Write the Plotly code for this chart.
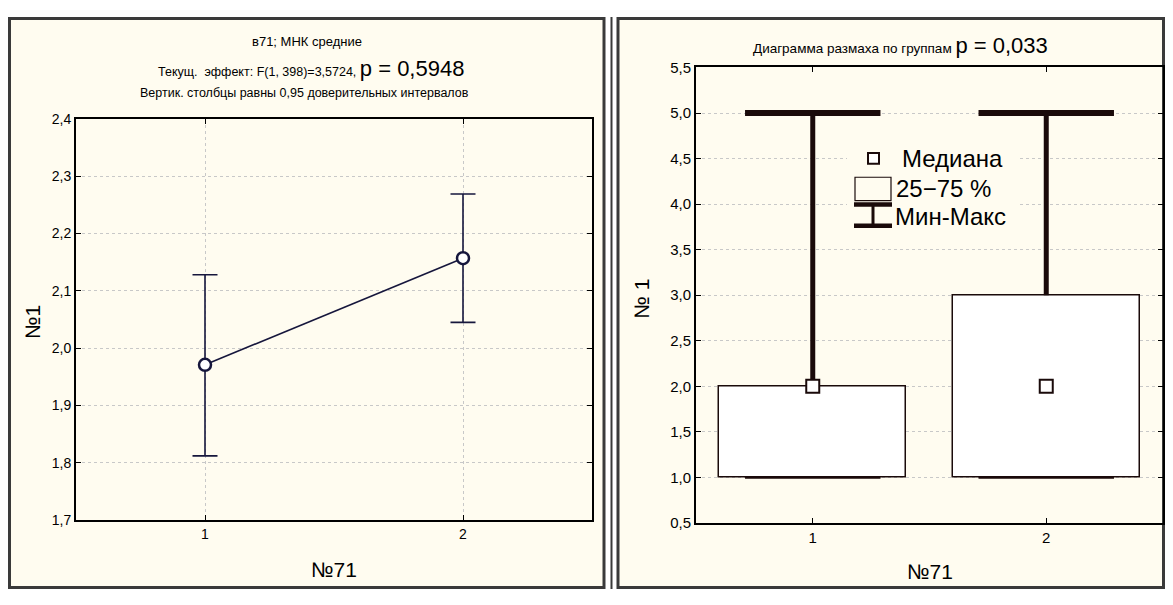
import plotly.graph_objects as go

# ---------------- data ----------------
groups = [1, 2]
group_labels = ["1", "2"]

# left panel: LS means with 0.95 confidence intervals
means = [1.971, 2.157]
ci_low = [1.812, 2.045]
ci_high = [2.128, 2.269]

# right panel: range plot by groups
medians = [2.0, 2.0]
q1 = [1.0, 1.0]
q3 = [2.0, 3.0]
mins = [1.0, 1.0]
maxs = [5.0, 5.0]

# page is 1173x605; the browser's default 8px body margin surrounds the figure
PAGE_W, PAGE_H = 1173, 605
OFF = 8
W, H = PAGE_W - 2 * OFF, PAGE_H - 2 * OFF
NARROW = "Liberation Sans Narrow, Arial Narrow, Liberation Sans, Arial, sans-serif"
REG = "Liberation Sans, Arial, sans-serif"
CREAM = "#fffcf0"
NAVY = "#16163c"
DARK = "#1a0a0a"
BOX_W = 0.8
CAP = 0.29


def px(x):
    return (x - OFF) / W


def py(y):
    return 1 - (y - OFF) / H


fig = go.Figure()

# ---------- left panel ----------
fig.add_trace(go.Scatter(
    x=groups, y=means, mode="lines+markers",
    line=dict(color=NAVY, width=1.6),
    marker=dict(symbol="circle", size=12, color="white", line=dict(color=NAVY, width=2.5)),
    error_y=dict(type="data", symmetric=False,
                 array=[h - m for h, m in zip(ci_high, means)],
                 arrayminus=[m - l for m, l in zip(means, ci_low)],
                 color=NAVY, thickness=1.6, width=12.5),
    xaxis="x", yaxis="y", showlegend=False, hoverinfo="skip"))

# ---------- right panel ----------
fig.add_trace(go.Bar(
    x=groups, y=[b - a for a, b in zip(q1, q3)], base=q1, width=BOX_W,
    marker=dict(color="white", line=dict(color=DARK, width=1.5)),
    xaxis="x2", yaxis="y2", showlegend=False, hoverinfo="skip"))

wx, wy = [], []
for g, top, mx in zip(groups, q3, maxs):
    wx += [g, g, None]
    wy += [top, mx, None]
fig.add_trace(go.Scatter(x=wx, y=wy, mode="lines", line=dict(color=DARK, width=5),
                         xaxis="x2", yaxis="y2", showlegend=False, hoverinfo="skip"))

cx, cy = [], []
for g, mx in zip(groups, maxs):
    cx += [g - CAP, g + CAP, None]
    cy += [mx, mx, None]
fig.add_trace(go.Scatter(x=cx, y=cy, mode="lines", line=dict(color=DARK, width=6),
                         xaxis="x2", yaxis="y2", showlegend=False, hoverinfo="skip"))

lx, ly = [], []
for g, mn in zip(groups, mins):
    lx += [g - CAP, g + CAP, None]
    ly += [mn, mn, None]
fig.add_trace(go.Scatter(x=lx, y=ly, mode="lines", line=dict(color=DARK, width=2.5),
                         xaxis="x2", yaxis="y2", showlegend=False, hoverinfo="skip"))

fig.add_trace(go.Scatter(
    x=groups, y=medians, mode="markers",
    marker=dict(symbol="square", size=13, color="white", line=dict(color=DARK, width=2)),
    xaxis="x2", yaxis="y2", showlegend=False, hoverinfo="skip"))

axis_common = dict(showline=True, linecolor="black", linewidth=2, mirror="ticks",
                   ticks="inside", ticklen=5, tickcolor="black", zeroline=False,
                   gridcolor="#c8c8c8", griddash="dot", gridwidth=1)

fig.update_layout(
    width=W, height=H, margin=dict(l=0, r=0, t=0, b=0),
    paper_bgcolor="white", plot_bgcolor="white", separators=",.",
    bargap=0,
    xaxis=dict(domain=[px(76), px(592)], range=[0.5, 2.5], tickvals=groups, ticktext=group_labels,
               showgrid=True, tickfont=dict(family=NARROW, size=14, color="black"),
               anchor="y", **axis_common),
    yaxis=dict(domain=[py(526), py(113)], range=[1.7, 2.4], dtick=0.1, tick0=1.7, tickformat=".1f",
               showgrid=True, tickfont=dict(family=NARROW, size=14, color="black"),
               anchor="x", **axis_common),
    xaxis2=dict(domain=[px(696), px(1163)], range=[0.5, 2.5], tickvals=groups, ticktext=group_labels,
                showgrid=False, tickfont=dict(family=REG, size=15, color="black"),
                anchor="y2", **axis_common),
    yaxis2=dict(domain=[py(529), py(60)], range=[0.5, 5.5], dtick=0.5, tick0=0.5, tickformat=".1f",
                showgrid=True, tickfont=dict(family=REG, size=15, color="black"),
                anchor="x2", **axis_common),
)

shapes = [
    # panel backgrounds / frames
    dict(type="rect", xref="paper", yref="paper", x0=px(9.5), x1=px(604), y0=py(595.5), y1=py(9.5),
         fillcolor=CREAM, line=dict(color="#3a3a3a", width=3), layer="below"),
    dict(type="rect", xref="paper", yref="paper", x0=px(618), x1=px(1163.5), y0=py(595.5), y1=py(9.5),
         fillcolor=CREAM, line=dict(color="#3a3a3a", width=3), layer="below"),
    dict(type="line", xref="paper", yref="paper", x0=px(611.5), x1=px(611.5), y0=py(597), y1=py(8),
         line=dict(color="#3a3a3a", width=2)),
    # legend of the range plot
    dict(type="rect", xref="paper", yref="paper", x0=px(847), x1=px(1020), y0=py(233), y1=py(137),
         fillcolor=CREAM, line=dict(width=0)),
    dict(type="rect", xref="paper", yref="paper", x0=px(868), x1=px(879), y0=py(159), y1=py(148),
         fillcolor="white", line=dict(color=DARK, width=2)),
    dict(type="rect", xref="paper", yref="paper", x0=px(855), x1=px(891), y0=py(197), y1=py(173),
         fillcolor=CREAM, line=dict(color=DARK, width=1.2)),
    dict(type="line", xref="paper", yref="paper", x0=px(854), x1=px(892), y0=py(201), y1=py(201),
         line=dict(color=DARK, width=4.5)),
    dict(type="line", xref="paper", yref="paper", x0=px(873), x1=px(873), y0=py(201), y1=py(223),
         line=dict(color=DARK, width=3)),
    dict(type="line", xref="paper", yref="paper", x0=px(854), x1=px(892), y0=py(223), y1=py(223),
         line=dict(color=DARK, width=4.5)),
]
fig.update_layout(shapes=shapes)


def ann(text, x, y, size, family, xanchor="center", angle=0):
    return dict(text=text, x=px(x), y=py(y), xref="paper", yref="paper", showarrow=False,
                xanchor=xanchor, yanchor="middle", textangle=angle,
                font=dict(family=family, size=size, color="black"))


annotations = [
    ann("в71; МНК средние", 307, 33, 13, NARROW),
    ann("Текущ.\u00a0 эффект: F(1, 398)=3,5724, "
        "<span style='font-size:22px;font-family:Liberation Sans, Arial'>p = 0,5948</span>",
        311, 61, 12.5, NARROW),
    ann("Вертик. столбцы равны 0,95 доверительных интервалов", 304, 86, 12.5, NARROW),
    ann("№71", 334, 577, 21, NARROW),
    ann("№1", 33, 322, 21, REG, angle=-90),
    ann("Диаграмма размаха по группам "
        "<span style='font-size:22px;font-family:Liberation Sans, Arial'>p = 0,033</span>",
        900, 37, 13.5, NARROW),
    ann("№71", 930, 579, 21, NARROW),
    ann("№ 1", 642, 298, 21, REG, angle=-90),
    ann("Медиана", 900, 154, 24, REG, xanchor="left"),
    ann("25−75 %", 894, 185, 24, REG, xanchor="left"),
    ann("Мин-Макс", 893, 213, 24, REG, xanchor="left"),
]
fig.update_layout(annotations=annotations)

fig.write_html("out.html", config={"displayModeBar": False})
